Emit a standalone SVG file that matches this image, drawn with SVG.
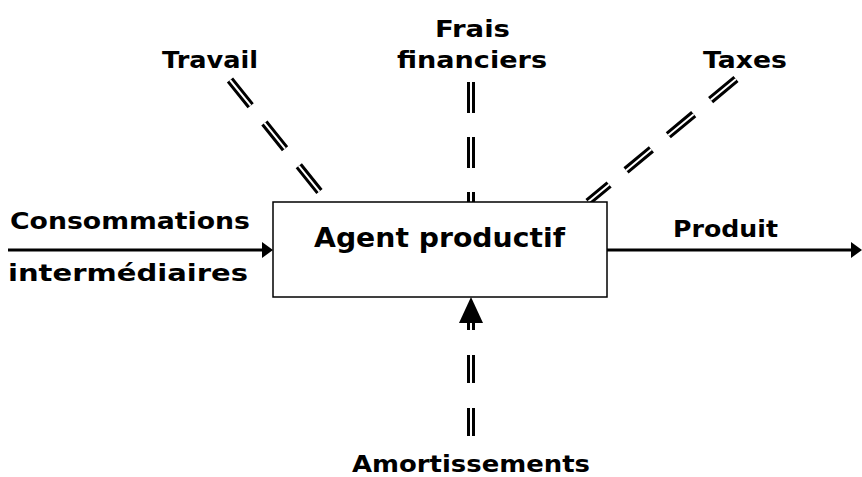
<svg xmlns="http://www.w3.org/2000/svg" width="862" height="477" viewBox="0 0 862 477">
<style>
text{font-family:"DejaVu Sans",Verdana,sans-serif;font-weight:bold;fill:#000}
.lbl{font-size:23px}
.dbl{fill:none;stroke:#000;stroke-width:8}
.dblw{fill:none;stroke:#fff;stroke-width:2}
.solid{fill:none;stroke:#000;stroke-width:3}
</style>
<rect width="862" height="477" fill="#fff"/>
<g id="connectors">
  <g id="c-travail">
    <line class="dbl" x1="230" y1="80" x2="323" y2="196" stroke-dasharray="33 22"/>
    <line class="dblw" x1="230" y1="80" x2="323" y2="196" stroke-dasharray="33 22"/>
  </g>
  <g id="c-frais">
    <line class="dbl" x1="471" y1="82" x2="471" y2="202" stroke-dasharray="31 24"/>
    <line class="dblw" x1="471" y1="82" x2="471" y2="202" stroke-dasharray="31 24"/>
  </g>
  <g id="c-taxes">
    <line class="dbl" x1="736" y1="79" x2="588" y2="202" stroke-dasharray="33 22"/>
    <line class="dblw" x1="736" y1="79" x2="588" y2="202" stroke-dasharray="33 22"/>
  </g>
  <g id="c-amort">
    <line class="dbl" x1="471" y1="436" x2="471" y2="322" stroke-dasharray="28 25"/>
    <line class="dblw" x1="471" y1="436" x2="471" y2="322" stroke-dasharray="28 25"/>
    <polygon points="471,297 459,323 483,323" fill="#000"/>
  </g>
  <g id="c-conso">
    <line class="solid" x1="8" y1="250" x2="264" y2="250"/>
    <polygon points="273,250 262,242 262,258" fill="#000"/>
  </g>
  <g id="c-produit">
    <line class="solid" x1="607" y1="250" x2="852" y2="250"/>
    <polygon points="862,250 851,242 851,258" fill="#000"/>
  </g>
</g>
<g id="agent">
  <rect x="273" y="202" width="334" height="95" fill="#fff" stroke="#000" stroke-width="1.5"/>
  <text x="314" y="247" font-size="26" textLength="251" lengthAdjust="spacingAndGlyphs">Agent productif</text>
</g>
<g id="travail"><text class="lbl" x="162" y="68" textLength="96" lengthAdjust="spacingAndGlyphs">Travail</text></g>
<g id="frais">
  <text class="lbl" x="435" y="37" textLength="75" lengthAdjust="spacingAndGlyphs">Frais</text>
  <text class="lbl" x="397" y="68" textLength="150" lengthAdjust="spacingAndGlyphs">financiers</text>
</g>
<g id="taxes"><text class="lbl" x="703" y="68" textLength="84" lengthAdjust="spacingAndGlyphs">Taxes</text></g>
<g id="conso">
  <text class="lbl" x="10" y="229" textLength="240" lengthAdjust="spacingAndGlyphs">Consommations</text>
  <text class="lbl" x="8" y="281" textLength="240" lengthAdjust="spacingAndGlyphs">intermédiaires</text>
</g>
<g id="produit"><text class="lbl" x="673" y="237" textLength="105" lengthAdjust="spacingAndGlyphs">Produit</text></g>
<g id="amort"><text class="lbl" x="352" y="472" textLength="238" lengthAdjust="spacingAndGlyphs">Amortissements</text></g>
</svg>
